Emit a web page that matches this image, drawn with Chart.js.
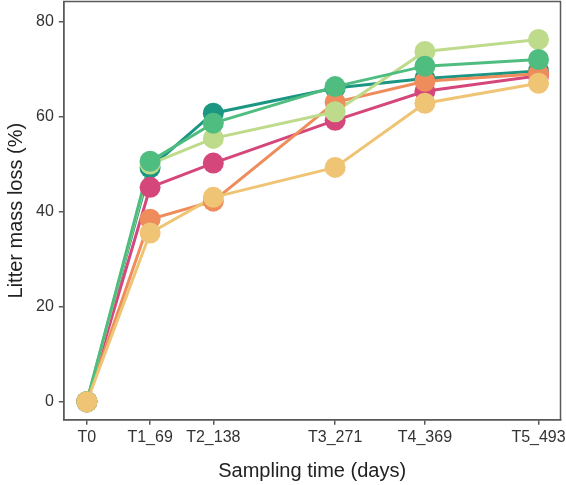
<!DOCTYPE html>
<html>
<head>
<meta charset="utf-8">
<script src="https://cdn.jsdelivr.net/npm/chart.js@4/dist/chart.umd.min.js"></script>
<style>
  html, body { margin: 0; padding: 0; background: #fff; overflow: hidden; }
  #wrap { width: 571px; height: 494px; margin-top: -9px; }
</style>
</head>
<body>
<div id="wrap"><canvas id="massChart"></canvas></div>
<script>
// sampling days and their labels
var days = [0, 69, 138, 271, 369, 493];
var dayLabels = ['T0', 'T1_69', 'T2_138', 'T3_271', 'T4_369', 'T5_493'];
var yTicks = [0, 20, 40, 60, 80];

// litter mass loss (%) per treatment
var tealLoss   = [0, 49.2, 60.7, 66.0, 68.0, 69.6];
var pinkLoss   = [0, 45.1, 50.2, 59.2, 65.3, 68.6];
var orangeLoss = [0, 38.4, 42.2, 63.0, 67.4, 69.0];
var yellowLoss = [0, 35.5, 43.0, 49.3, 62.8, 67.0];
var lgreenLoss = [0, 50.0, 55.4, 61.0, 73.7, 76.2];
var greenLoss  = [0, 50.6, 58.6, 66.3, 70.6, 72.0];

// bottom -> top
var series = [
  { data: tealLoss,   color: '#1b9683' },
  { data: pinkLoss,   color: '#d5477b' },
  { data: orangeLoss, color: '#ee8c5c' },
  { data: lgreenLoss, color: '#bedb8c' },
  { data: greenLoss,  color: '#50bd80' },
  { data: yellowLoss, color: '#efc474' }
];

function toPoints(vals) {
  return vals.map(function (v, i) { return { x: days[i], y: v }; });
}

var datasets = [];
// lines first (under every dot)
series.forEach(function (s, i) {
  datasets.push({
    data: toPoints(s.data),
    borderColor: s.color,
    borderWidth: 3,
    pointRadius: 0,
    showLine: true,
    order: 100 - i
  });
});
series.forEach(function (s, i) {
  datasets.push({
    data: toPoints(s.data),
    backgroundColor: s.color,
    borderWidth: 0,
    pointRadius: 10.5,
    showLine: false,
    order: 50 - i
  });
});

// box round the plot panel
var framePlugin = {
  id: 'frame',
  afterDraw: function (chart) {
    var a = chart.chartArea, ctx = chart.ctx;
    ctx.save();
    ctx.strokeStyle = '#5a5a5a';
    ctx.lineWidth = 1.5;
    ctx.strokeRect(a.left, a.top, a.right - a.left, a.bottom - a.top);
    ctx.restore();
  }
};

var ctx = document.getElementById('massChart').getContext('2d');
var massChart = new Chart(ctx, {
  type: 'scatter',
  data: { datasets: datasets },
  options: {
    responsive: true,
    maintainAspectRatio: false,
    animation: false,
    layout: { padding: { top: 1, right: 2, left: 0, bottom: 0 } },
    plugins: { legend: { display: false }, tooltip: { enabled: false } },
    scales: {
      x: {
        type: 'linear',
        min: -25.2,
        max: 517,
        afterBuildTicks: function (axis) {
          axis.ticks = days.map(function (d) { return { value: d }; });
        },
        ticks: {
          autoSkip: false,
          maxRotation: 0,
          color: '#333',
          font: { family: 'Liberation Sans, Arial', size: 16 },
          padding: 3,
          callback: function (v) { return dayLabels[days.indexOf(v)]; }
        },
        grid: { drawOnChartArea: false, drawTicks: true, tickLength: 5, color: '#5a5a5a', lineWidth: 1.5 },
        border: { display: true, color: '#5a5a5a', width: 1.5 },
        title: {
          display: true,
          text: 'Sampling time (days)',
          color: '#222',
          font: { family: 'Liberation Sans, Arial', size: 20 },
          padding: { top: 9, bottom: 2 }
        }
      },
      y: {
        min: -3.8,
        max: 84.2,
        afterBuildTicks: function (axis) {
          axis.ticks = yTicks.map(function (v) { return { value: v }; });
        },
        afterFit: function (axis) {
          axis.paddingTop = 0;
        },
        ticks: {
          color: '#333',
          font: { family: 'Liberation Sans, Arial', size: 16 },
          padding: 5
        },
        grid: { drawOnChartArea: false, drawTicks: true, tickLength: 5, color: '#5a5a5a', lineWidth: 1.5 },
        border: { display: true, color: '#5a5a5a', width: 1.5 },
        title: {
          display: true,
          text: 'Litter mass loss (%)',
          color: '#222',
          font: { family: 'Liberation Sans, Arial', size: 20 },
          padding: { top: 4, bottom: 3 }
        }
      }
    }
  },
  plugins: [framePlugin]
});
</script>
</body>
</html>
